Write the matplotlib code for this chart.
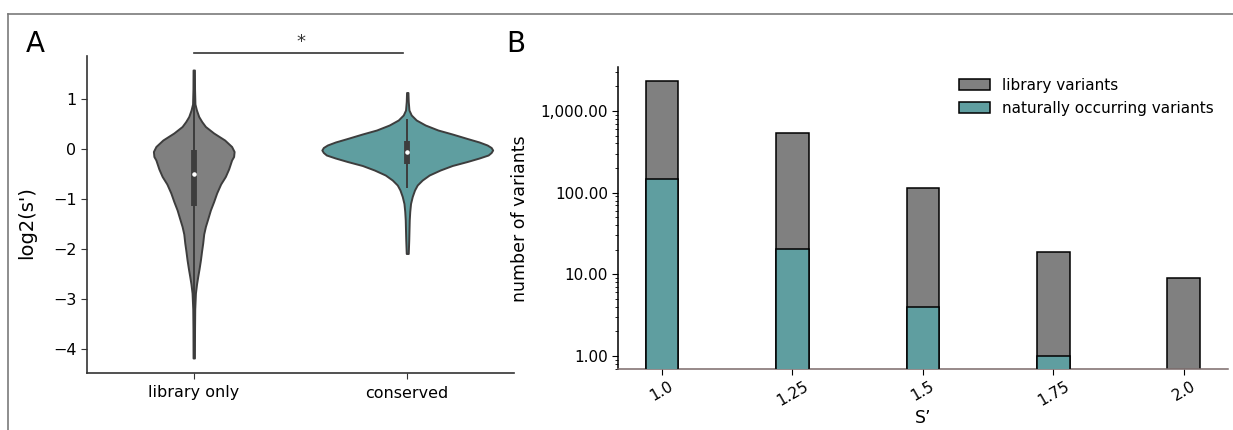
import numpy as np
import matplotlib
matplotlib.use("Agg")
import matplotlib.pyplot as plt
from matplotlib.ticker import FuncFormatter, LogLocator, NullFormatter
from matplotlib.patches import Patch
from matplotlib.lines import Line2D

plt.rcParams['font.family'] = ['DejaVu Sans']

# ---------------- Panel A data (violin profiles) ----------------
groups = ["library only", "conserved"]

lib_y = [1.58, 1.2, 0.9, 0.78, 0.65, 0.55, 0.45, 0.32, 0.18, 0.05, -0.05, -0.15,
         -0.22, -0.4, -0.55, -0.7, -0.88, -1.05, -1.22, -1.4, -1.55, -1.7, -1.88,
         -2.05, -2.22, -2.4, -2.55, -2.7, -2.88, -3.2, -3.6, -4.18]
lib_density = [0.7, 0.8, 1.2, 2.7, 5, 8, 11.7, 20, 31, 38, 40.5, 40, 38, 35, 31.7,
               27, 23, 20, 16.7, 14, 11.7, 10, 9, 7.8, 6.7, 5.3, 4, 2.8, 1.7, 1.0,
               0.8, 0.7]
lib_q1, lib_median, lib_q3 = -1.13, -0.49, -0.02
lib_whisk_lo, lib_whisk_hi = -4.18, 1.58

cons_y = [1.13, 0.95, 0.78, 0.68, 0.58, 0.48, 0.38, 0.3, 0.21, 0.14, 0.08, 0.03,
          -0.02, -0.07, -0.12, -0.18, -0.25, -0.33, -0.42, -0.52, -0.62, -0.72,
          -0.82, -0.95, -1.09, -1.25, -1.42, -1.82, -2.09]
cons_density = [0.7, 1.0, 1.7, 4, 9, 18, 30.7, 45, 60, 72, 80, 84, 85.5, 84, 81,
                72, 60, 45, 33, 22, 15, 10, 7.3, 5, 3.3, 2.5, 2, 1.5, 1.0]
cons_q1, cons_median, cons_q3 = -0.29, -0.05, 0.16
cons_whisk_lo, cons_whisk_hi = -0.77, 0.61

violin_widths = [0.378, 0.8]
violin_colors = ["#808080", "#5f9ea0"]

# ---------------- Panel B data ----------------
s_labels = ["1.0", "1.25", "1.5", "1.75", "2.0"]
library_variants = [2350, 542, 115, 18.9, 9.1]
natural_variants = [147, 20.2, 4.0, 1.0, 0]

# ---------------- Figure ----------------
W, H = 1233, 430
fig = plt.figure(figsize=(W / 100, H / 100), dpi=100)

def fx(px):
    return px / W

def fy(py):
    return 1 - py / H

# frame lines (top and left)
fig.add_artist(Line2D([fx(8), 1.0], [fy(14), fy(14)], color="#7a7a7a", lw=1.2))
fig.add_artist(Line2D([fx(8), fx(8)], [fy(14), 0.0], color="#7a7a7a", lw=1.2))

# ---------- Panel A ----------
axA = fig.add_axes([fx(87), fy(373), fx(514 - 87), (373 - 56) / H])
stats = [
    dict(coords=np.array(lib_y), vals=np.array(lib_density), mean=lib_median,
         median=lib_median, min=min(lib_y), max=max(lib_y)),
    dict(coords=np.array(cons_y), vals=np.array(cons_density), mean=cons_median,
         median=cons_median, min=min(cons_y), max=max(cons_y)),
]
positions = [0, 1]
vp = axA.violin(stats, positions=positions, widths=violin_widths,
                showmeans=False, showextrema=False, showmedians=False)
for body, c in zip(vp['bodies'], violin_colors):
    body.set_facecolor(c)
    body.set_edgecolor("#3d3d3d")
    body.set_linewidth(1.4)
    body.set_alpha(1)

q1s = [lib_q1, cons_q1]
q3s = [lib_q3, cons_q3]
meds = [lib_median, cons_median]
wlo = [lib_whisk_lo, cons_whisk_lo]
whi = [lib_whisk_hi, cons_whisk_hi]
axA.vlines(positions, wlo, whi, color="#3d3d3d", lw=1.4, zorder=3)
axA.vlines(positions, q1s, q3s, color="#3d3d3d", lw=4.2, zorder=4)
axA.scatter(positions, meds, s=5, color="white", zorder=5)

axA.set_xlim(-0.5, 1.5)
axA.set_ylim(-4.48, 1.86)
axA.set_xticks(positions)
axA.set_xticklabels(groups, fontsize=11.5)
axA.set_yticks([1, 0, -1, -2, -3, -4])
axA.tick_params(axis='y', labelsize=11.5, length=4, color="#333333")
axA.tick_params(axis='x', length=4, color="#333333", pad=5)
axA.set_ylabel("log2(s')", fontsize=14)
axA.yaxis.set_label_coords(-0.119, 0.476)
for sp in ["top", "right"]:
    axA.spines[sp].set_visible(False)
for sp in ["left", "bottom"]:
    axA.spines[sp].set_color("#333333")
    axA.spines[sp].set_linewidth(1.2)

# significance bar
axA.plot([0, 0.98], [1.915, 1.915], color="#333333", lw=1.2, clip_on=False)
axA.text(0.5, 1.96, "*", ha="center", va="bottom", fontsize=13, color="#333333",
         clip_on=False)

fig.text(fx(26), fy(52), "A", fontsize=20, ha="left", va="baseline")

# ---------- Panel B ----------
axB = fig.add_axes([fx(618.3), fy(369.3), fx(1228 - 618.3), (369.3 - 66.7) / H])
xpos = np.arange(len(s_labels))
axB.bar(xpos, library_variants, width=0.25, color="#808080", edgecolor="black",
        linewidth=1.1, zorder=2)
nat_idx = [i for i, v in enumerate(natural_variants) if v > 0]
axB.bar([xpos[i] for i in nat_idx], [natural_variants[i] for i in nat_idx],
        width=0.25, color="#5f9ea0", edgecolor="black", linewidth=1.1, zorder=3)
axB.set_yscale("log")
axB.set_ylim(0.687, 3480)
axB.set_xlim(-0.335, 4.34)
axB.yaxis.set_major_locator(LogLocator(base=10, numticks=10))
axB.yaxis.set_major_formatter(FuncFormatter(lambda v, p: f"{v:,.2f}"))
axB.yaxis.set_minor_locator(LogLocator(base=10, subs=np.arange(2, 10), numticks=20))
axB.yaxis.set_minor_formatter(NullFormatter())
axB.set_yticks([1, 10, 100, 1000])
axB.tick_params(axis='y', which='major', labelsize=11, length=4)
axB.tick_params(axis='y', which='minor', length=2)
axB.set_xticks(xpos)
axB.set_xticklabels(s_labels, rotation=30, fontsize=11)
axB.tick_params(axis='x', length=4, pad=3)
axB.set_xlabel("S’", fontsize=12.5, labelpad=0)
axB.set_ylabel("number of variants", fontsize=12.5)
axB.yaxis.set_label_coords(-0.146, 0.497)
for sp in ["top", "right"]:
    axB.spines[sp].set_visible(False)
axB.spines["left"].set_color("black")
axB.spines["bottom"].set_color("#7a6a6a")
axB.spines["left"].set_linewidth(1.1)
axB.spines["bottom"].set_linewidth(1.1)

handles = [Patch(facecolor="#808080", edgecolor="black", linewidth=1.1),
           Patch(facecolor="#5f9ea0", edgecolor="black", linewidth=1.1)]
axB.legend(handles, ["library variants", "naturally occurring variants"],
           loc="upper left", bbox_to_anchor=(0.559, 0.963), frameon=False,
           fontsize=11, borderpad=0, borderaxespad=0, handlelength=2.0,
           handletextpad=0.8, labelspacing=0.5)

fig.text(fx(506), fy(52), "B", fontsize=20, ha="left", va="baseline")

fig.savefig("out.png", dpi=100)
